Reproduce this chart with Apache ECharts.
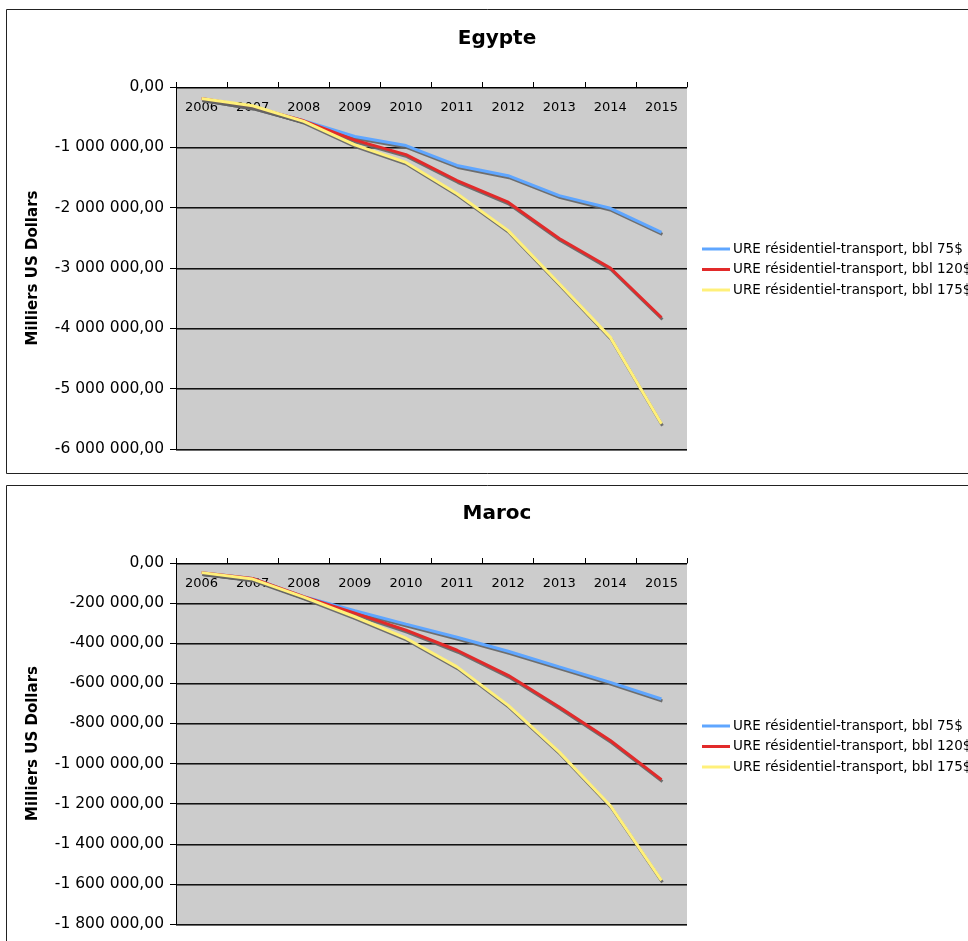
<!DOCTYPE html>
<html><head><meta charset="utf-8">
<script src="https://cdn.jsdelivr.net/npm/echarts@6/dist/echarts.min.js"></script>
<style>html,body{margin:0;padding:0;background:#fff}#c{width:968px;height:941px}</style>
</head><body><div id="c"></div>
<script>
const years = ['2006','2007','2008','2009','2010','2011','2012','2013','2014','2015'];
const seriesNames = ['URE résidentiel-transport, bbl 75$','URE résidentiel-transport, bbl 120$','URE résidentiel-transport, bbl 175$'];
const egypte75 = [-190000,-330000,-560000,-820000,-970000,-1300000,-1470000,-1800000,-2010000,-2410000];
const egypte120 = [-190000,-330000,-560000,-880000,-1120000,-1550000,-1910000,-2510000,-3000000,-3820000];
const egypte175 = [-190000,-310000,-570000,-960000,-1250000,-1770000,-2380000,-3260000,-4150000,-5580000];
const maroc75 = [-48000,-77000,-168000,-238000,-305000,-370000,-440000,-518000,-595000,-678000];
const maroc120 = [-48000,-77000,-168000,-250000,-335000,-435000,-560000,-718000,-885000,-1080000];
const maroc175 = [-48000,-80000,-170000,-268000,-375000,-518000,-710000,-943000,-1210000,-1582000];
const titles = ['Egypte','Maroc'];
const yTitle = 'Milliers US Dollars';

const colors = ['#5fa6ff','#e22a2a','#fff07a'];
const FONT = 'DejaVu Sans';
function fmt(v){
  const neg = v < 0; let s = String(Math.abs(Math.round(v)));
  s = s.replace(/\B(?=(\d{3})+(?!\d))/g,' ');
  return (neg?'-':'') + s + ',00';
}
const grids = [
  {left:176, top:87, width:511, height:362, show:true, backgroundColor:'#cccccc', borderWidth:0},
  {left:176, top:563, width:511, height:361, show:true, backgroundColor:'#cccccc', borderWidth:0}
];
function xAx(i){ return {
  type:'category', gridIndex:i, data:years, position:'top', boundaryGap:true,
  axisLine:{show:true, onZero:false, lineStyle:{color:'#000', width:1}},
  axisTick:{show:true, inside:false, length:5, alignWithLabel:false, lineStyle:{color:'#000'}},
  axisLabel:{inside:true, margin:14, color:'#000', fontFamily:FONT, fontSize:13, interval:0},
  splitLine:{show:false}
};}
function yAx(i, min, interval){ return {
  type:'value', gridIndex:i, min:min, max:0, interval:interval,
  name:yTitle, nameLocation:'middle', nameGap:135, nameRotate:90,
  nameTextStyle:{fontFamily:FONT, fontWeight:'bold', fontSize:15, color:'#000'},
  axisLine:{show:true, lineStyle:{color:'#000', width:1}},
  axisTick:{show:true, inside:false, length:6, lineStyle:{color:'#000'}},
  axisLabel:{margin:12, color:'#000', fontFamily:FONT, fontSize:15.5, formatter:fmt},
  splitLine:{show:true, lineStyle:{color:'#111', width:1, shadowColor:'rgba(90,90,90,0.9)', shadowOffsetY:1}}
};}
function ser(name, data, idx, gi){ return {
  name:name, type:'line', xAxisIndex:gi, yAxisIndex:gi, data:data, symbol:'none', smooth:false,
  lineStyle:{color:colors[idx], width:3, shadowColor:'rgba(100,100,100,0.9)', shadowBlur:0, shadowOffsetX:1, shadowOffsetY:2},
  itemStyle:{color:colors[idx]}, z:2+idx, animation:false
};}
function legend(top){ return {
  orient:'vertical', left:702, top:top, padding:0, itemWidth:28, itemHeight:3, itemGap:6.5,
  data:seriesNames, icon:'rect',
  textStyle:{fontFamily:FONT, fontSize:13.5, color:'#000', lineHeight:13, padding:[0,0,0,-2]},
  selectedMode:false
};}
const option = {
  animation:false,
  backgroundColor:'#fff',
  title:[
    {text:titles[0], left:492, top:24, textAlign:'center', textStyle:{fontFamily:FONT, fontWeight:'bold', fontSize:20, color:'#000'}},
    {text:titles[1], left:492, top:499, textAlign:'center', textStyle:{fontFamily:FONT, fontWeight:'bold', fontSize:20, color:'#000'}}
  ],
  graphic:[
    {type:'rect', shape:{x:6.5, y:9.5, width:1000, height:464}, style:{fill:'none', stroke:'#222', lineWidth:1}, z:-1},
    {type:'rect', shape:{x:6.5, y:485.5, width:1000, height:500}, style:{fill:'none', stroke:'#222', lineWidth:1}, z:-1}
  ],
  legend:[legend(242), legend(719)],
  grid:grids,
  xAxis:[xAx(0), xAx(1)],
  yAxis:[yAx(0,-6000000,1000000), yAx(1,-1800000,200000)],
  series:[
    ser(seriesNames[0], egypte75, 0, 0),
    ser(seriesNames[1], egypte120, 1, 0),
    ser(seriesNames[2], egypte175, 2, 0),
    ser(seriesNames[0], maroc75, 0, 1),
    ser(seriesNames[1], maroc120, 1, 1),
    ser(seriesNames[2], maroc175, 2, 1)
  ]
};
const chart = echarts.init(document.getElementById('c'), null, {renderer:'canvas'});
chart.setOption(option);
</script></body></html>
